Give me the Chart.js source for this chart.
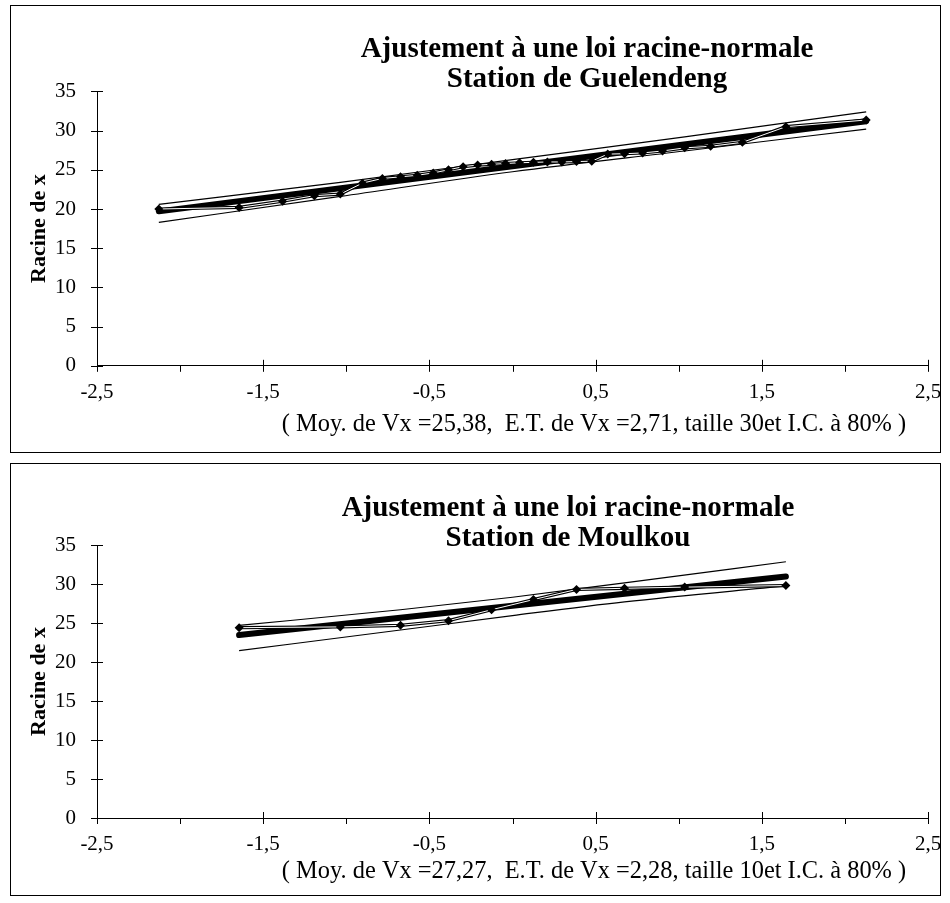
<!DOCTYPE html>
<html>
<head>
<meta charset="utf-8">
<script src="https://cdn.jsdelivr.net/npm/chart.js@4/dist/chart.umd.min.js"></script>
<style>
  body { margin: 0; background: #fff; }
  .page { position: relative; width: 950px; height: 903px; }
  .box { position: absolute; left: 10px; width: 929px; border: 1px solid #000; }
  canvas { position: absolute; left: 0; }
</style>
</head>
<body>
<div class="page">
  <div class="box" style="top:5px;height:446px"></div>
  <div class="box" style="top:463px;height:431px"></div>
  <canvas id="chartTop" width="950" height="455" style="top:0"></canvas>
  <canvas id="chartBottom" width="950" height="448" style="top:455px"></canvas>
</div>
<script>
// Station de Guelendeng (30 values)
const guelZ = [-2.128, -1.645, -1.383, -1.192, -1.036, -0.903, -0.783, -0.674, -0.573, -0.477,
  -0.385, -0.297, -0.210, -0.126, -0.042, 0.042, 0.126, 0.210, 0.297, 0.385,
  0.477, 0.573, 0.674, 0.783, 0.903, 1.036, 1.192, 1.383, 1.645, 2.128];
const guelRoot = [20.0, 20.2, 21.0, 21.7, 21.9, 23.3, 23.9, 24.1, 24.3, 24.6,
  25.0, 25.4, 25.6, 25.7, 25.8, 25.9, 25.95, 26.0, 26.0, 26.05,
  26.1, 27.0, 27.05, 27.15, 27.4, 27.8, 28.0, 28.5, 30.5, 31.35];
const guelFitZ = [-2.128, 2.128];
const guelFit = [19.7, 31.2];
const guelCiZ = [-2.128, -1.036, 0, 1.036, 2.128];
const guelCiHigh = [20.6, 23.4, 26.3, 29.2, 32.4];
const guelCiLow = [18.3, 21.6, 24.75, 27.4, 30.2];

// Station de Moulkou (10 values)
const moulZ = [-1.645, -1.036, -0.674, -0.385, -0.126, 0.126, 0.385, 0.674, 1.036, 1.645];
const moulRoot = [24.4, 24.5, 24.7, 25.3, 26.7, 28.0, 29.3, 29.45, 29.6, 29.8];
const moulFitZ = [-1.645, 1.645];
const moulFit = [23.45, 30.95];
const moulCiZ = [-1.645, -0.674, 0, 0.674, 1.645];
const moulCiHigh = [24.7, 26.7, 28.3, 30.15, 32.85];
const moulCiLow = [21.45, 24.1, 25.95, 27.7, 29.75];

const yTicks = [0, 5, 10, 15, 20, 25, 30, 35];
const xLabels = [-2.5, -1.5, -0.5, 0.5, 1.5, 2.5];

const titleLine1 = "Ajustement à une loi racine-normale";
const FONT = "'Liberation Serif', 'Times New Roman', serif";

const toPoints = (xs, ys) => xs.map((x, i) => ({ x: x, y: ys[i] }));

// tick marks that cross the axes, plus the centred titles and the footer
const decorPlugin = {
  id: "decor",
  afterDraw(chart, args, opts) {
    const ctx = chart.ctx;
    const xs = chart.scales.x;
    const ys = chart.scales.y;
    const area = chart.chartArea;
    ctx.save();
    ctx.strokeStyle = "#000";
    ctx.lineWidth = 1;
    ctx.beginPath();
    xs.ticks.forEach(t => {
      const px = Math.round(xs.getPixelForValue(t.value)) + 0.5;
      const major = xLabels.some(v => Math.abs(v - t.value) < 1e-6);
      ctx.moveTo(px, area.bottom + 6);
      ctx.lineTo(px, major ? area.bottom - 6 : area.bottom);
    });
    ys.ticks.forEach(t => {
      const py = Math.round(ys.getPixelForValue(t.value)) + 0.5;
      ctx.moveTo(area.left - 6, py);
      ctx.lineTo(area.left + 6, py);
    });
    ctx.stroke();

    ctx.fillStyle = "#000";
    ctx.textAlign = "center";
    ctx.textBaseline = "middle";
    ctx.font = "bold 29px " + FONT;
    ctx.fillText(titleLine1, opts.titleX, opts.titleY);
    ctx.fillText(opts.station, opts.titleX, opts.titleY + 30);
    ctx.font = "24.4px " + FONT;
    ctx.fillText(opts.footer, opts.footerX, opts.footerY);
    ctx.restore();
  }
};

const makeChart = (id, d) => {
  const ctx = document.getElementById(id).getContext("2d");
  return new Chart(ctx, {
    type: "scatter",
    data: {
      datasets: [
        {
          data: toPoints(d.fitZ, d.fit),
          showLine: true, borderColor: "#000", borderWidth: 6,
          borderCapStyle: "round", pointRadius: 0, order: 4
        },
        {
          data: toPoints(d.ciZ, d.ciHigh),
          showLine: true, borderColor: "#000", borderWidth: 1.2,
          cubicInterpolationMode: "monotone", pointRadius: 0, order: 3
        },
        {
          data: toPoints(d.ciZ, d.ciLow),
          showLine: true, borderColor: "#000", borderWidth: 1.2,
          cubicInterpolationMode: "monotone", pointRadius: 0, order: 3
        },
        {
          data: toPoints(d.z, d.root),
          showLine: true, borderColor: "#000", borderWidth: 3.2,
          pointRadius: 0, order: 2
        },
        {
          data: toPoints(d.z, d.root),
          showLine: true, borderColor: "#fff", borderWidth: 1,
          pointStyle: "rectRot", pointRadius: 4.5,
          pointBackgroundColor: "#000", pointBorderColor: "#000", pointBorderWidth: 0,
          order: 1
        }
      ]
    },
    options: {
      responsive: false,
      animation: false,
      events: [],
      layout: { padding: { top: d.top, right: 22, bottom: d.bottom, left: 18 } },
      plugins: {
        legend: { display: false },
        tooltip: { enabled: false },
        decor: {
          station: d.station, footer: d.footer,
          titleX: d.titleX, titleY: d.titleY,
          footerX: 594, footerY: d.footerY
        }
      },
      scales: {
        x: {
          type: "linear", min: -2.5, max: 2.5,
          afterFit: s => { s.height = 40; s.paddingLeft = 0; s.paddingRight = 0; },
          grid: { drawOnChartArea: false, drawTicks: false },
          border: { display: true, color: "#000", width: 1 },
          ticks: {
            stepSize: 0.5, padding: 14, color: "#000", maxRotation: 0,
            autoSkip: false,
            font: { family: FONT, size: 21 },
            callback: v => xLabels.some(l => Math.abs(l - v) < 1e-6) ? String(v).replace(".", ",") : ""
          }
        },
        y: {
          type: "linear", min: 0, max: 35,
          afterFit: s => { s.width = 79; },
          grid: { drawOnChartArea: false, drawTicks: false },
          border: { display: true, color: "#000", width: 1 },
          afterBuildTicks: s => { s.ticks = yTicks.map(v => ({ value: v })); },
          ticks: {
            padding: 21, color: "#000",
            font: { family: FONT, size: 21 }
          },
          title: {
            display: true, text: "Racine de x", color: "#000",
            padding: { top: 8, bottom: 0 },
            font: { family: FONT, size: 22, weight: "bold" }
          }
        }
      }
    },
    plugins: [decorPlugin]
  });
};

makeChart("chartTop", {
  z: guelZ, root: guelRoot, fitZ: guelFitZ, fit: guelFit,
  ciZ: guelCiZ, ciHigh: guelCiHigh, ciLow: guelCiLow,
  station: "Station de Guelendeng",
  footer: "( Moy. de Vx =25,38,  E.T. de Vx =2,71, taille 30et I.C. à 80% )",
  top: 91.4, bottom: 455 - 365.8 - 40,
  titleX: 587, titleY: 50, footerY: 425
});

makeChart("chartBottom", {
  z: moulZ, root: moulRoot, fitZ: moulFitZ, fit: moulFit,
  ciZ: moulCiZ, ciHigh: moulCiHigh, ciLow: moulCiLow,
  station: "Station de Moulkou",
  footer: "( Moy. de Vx =27,27,  E.T. de Vx =2,28, taille 10et I.C. à 80% )",
  top: 90, bottom: 448 - 363 - 40,
  titleX: 568, titleY: 54, footerY: 417
});
</script>
</body>
</html>
